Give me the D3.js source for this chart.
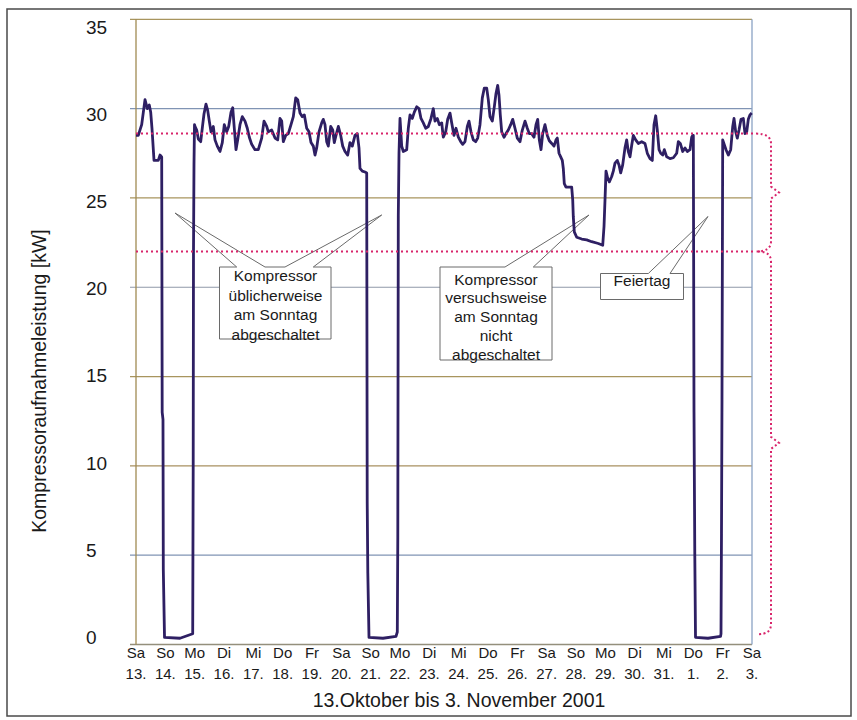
<!DOCTYPE html>
<html>
<head>
<meta charset="utf-8">
<script src="https://cdn.jsdelivr.net/npm/d3@7"></script>
<style>
  html, body { margin: 0; padding: 0; background: #fff; }
  svg { display: block; }
  text { font-family: "Liberation Sans", Arial, sans-serif; fill: #1a1a1a; }
</style>
</head>
<body>
<svg id="chart" width="857" height="720"></svg>
<script>
// ---------- DATA ----------
const dayNames = ["Sa","So","Mo","Di","Mi","Do","Fr","Sa","So","Mo","Di","Mi","Do","Fr","Sa","So","Mo","Di","Mi","Do","Fr","Sa"];
const dayDates = ["13.","14.","15.","16.","17.","18.","19.","20.","21.","22.","23.","24.","25.","26.","27.","28.","29.","30.","31.","1.","2.","3."];
const yTicks = [0,5,10,15,20,25,30,35];
const refLevels = [28.6, 22.0];   // red dotted reference lines [kW]
const xTitle = "13.Oktober bis 3. November 2001";
const yTitle = "Kompressoraufnahmeleistung [kW]";

// time in days since Sa 13.10. 0:00
const tDay = [
  0.000,0.078,0.194,0.307,0.385,0.453,0.501,0.545,0.614,0.760,0.818,0.876,0.893,0.920,0.931,0.972,1.500,1.933,
  1.950,1.960,1.977,1.994,2.011,2.069,2.124,2.206,2.274,2.318,2.386,2.444,2.499,2.557,2.635,2.693,2.772,2.864,2.942,
  3.010,3.092,3.160,3.239,3.297,3.351,3.409,3.467,3.545,3.624,3.716,3.794,3.863,3.944,4.057,4.169,4.285,4.364,4.456,
  4.510,4.626,4.739,4.831,4.909,4.967,5.022,5.103,5.192,5.284,5.363,5.444,5.513,5.591,5.669,5.738,5.819,5.898,5.966,
  6.045,6.102,6.160,6.239,6.331,6.385,6.443,6.501,6.556,6.638,6.706,6.760,6.818,6.897,6.979,7.047,7.125,7.217,7.295,
  7.374,7.466,7.544,7.602,7.636,7.715,7.807,7.865,7.882,7.903,7.943,8.420,8.864,8.908,8.925,8.942,8.966,9.000,9.058,
  9.113,9.229,9.283,9.341,9.420,9.488,9.570,9.648,9.716,9.795,9.876,9.965,10.057,10.135,10.193,10.272,10.340,10.422,
  10.476,10.558,10.626,10.705,10.763,10.841,10.909,10.988,11.069,11.138,11.216,11.295,11.352,11.420,11.499,11.581,
  11.649,11.727,11.806,11.874,11.956,12.010,12.068,12.147,12.215,12.273,12.331,12.375,12.419,12.467,12.546,12.614,
  12.692,12.774,12.843,12.920,12.999,13.091,13.170,13.262,13.340,13.408,13.490,13.568,13.637,13.694,13.749,13.807,
  13.865,13.943,14.022,14.090,14.172,14.250,14.318,14.363,14.421,14.478,14.533,14.567,14.601,14.659,14.772,14.853,
  14.888,14.908,14.942,15.024,15.195,15.365,15.535,15.761,15.911,15.955,15.989,16.023,16.081,16.136,16.217,16.272,
  16.330,16.408,16.466,16.524,16.592,16.670,16.728,16.783,16.841,16.899,16.954,17.035,17.124,17.240,17.352,17.431,
  17.523,17.601,17.659,17.717,17.772,17.830,17.888,17.956,18.011,18.092,18.205,18.318,18.433,18.488,18.556,18.638,
  18.716,18.795,18.886,18.944,18.979,19.000,19.023,19.050,19.074,19.500,19.926,19.943,19.960,19.977,20.001,20.114,
  20.192,20.274,20.343,20.387,20.445,20.499,20.557,20.625,20.704,20.761,20.820,20.874,20.932,20.991
];
// compressor power [kW]
const powerKW = [
  28.5,28.5,29.1,30.5,30.0,30.2,29.8,28.9,27.1,27.1,27.4,27.3,13.0,12.6,4.2,0.4,0.35,0.6,
  10.0,22.0,26.9,29.1,29.0,28.8,28.3,28.15,29.1,29.7,30.25,29.9,29.3,28.7,29.0,28.25,27.9,27.6,28.1,
  29.1,28.7,29.0,29.8,30.05,28.9,27.7,28.25,29.1,29.55,29.3,28.9,28.4,28.0,27.7,27.7,28.35,29.3,29.0,
  28.7,28.8,28.35,28.25,29.45,29.3,28.15,28.5,28.6,29.1,29.55,30.6,30.5,29.75,29.55,29.65,28.9,28.7,28.1,
  27.9,27.4,27.8,28.7,29.2,29.4,29.1,28.15,27.9,29.0,28.8,28.1,28.5,29.0,28.5,27.9,27.6,27.4,28.1,
  27.9,28.5,28.6,27.8,26.65,26.5,26.45,26.4,8.0,4.0,0.4,0.35,0.45,0.7,6.0,24.0,27.5,29.45,27.9,
  27.6,27.7,28.9,29.65,29.45,29.8,30.1,30.0,29.45,29.2,28.9,29.0,29.45,30.0,29.3,29.45,29.1,29.2,
  28.4,28.7,29.4,29.75,29.2,28.5,28.9,28.4,28.15,28.0,28.15,29.0,29.3,28.7,28.25,28.15,
  28.35,29.1,30.6,31.15,31.15,30.5,29.55,29.3,30.1,30.85,31.3,30.75,29.65,28.7,28.4,28.6,
  28.8,29.1,29.4,28.9,28.35,28.15,28.8,29.3,28.9,28.6,28.6,28.4,29.1,29.4,28.25,27.7,
  28.6,29.1,28.5,28.2,28.05,27.9,28.25,28.35,27.5,27.3,27.1,26.65,25.8,25.6,25.6,25.6,
  24.9,23.95,23.1,22.8,22.7,22.65,22.55,22.45,22.35,23.4,24.9,26.5,26.1,25.9,26.2,26.5,
  26.95,27.1,26.85,26.4,26.85,27.8,28.25,27.6,27.3,27.95,28.5,28.25,28.05,28.15,28.05,27.5,
  27.2,27.1,29.1,29.6,28.8,27.7,27.5,27.4,27.7,27.3,27.2,27.25,27.5,28.15,28.05,27.6,
  27.8,27.6,27.7,28.4,28.5,28.5,13.0,5.0,0.4,0.35,0.45,0.6,6.2,13.7,28.25,27.7,
  27.4,27.7,29.0,29.45,28.7,28.35,28.8,29.4,29.45,28.6,28.7,29.4,29.65,29.75
];

const callouts = [
  { lines: ["Kompressor","üblicherweise","am Sonntag","abgeschaltet"] },
  { lines: ["Kompressor","versuchsweise","am Sonntag","nicht","abgeschaltet"] },
  { lines: ["Feiertag"] }
];

// ---------- LAYOUT ----------
const svg = d3.select("#chart");
const x = d3.scaleLinear().domain([0, 21]).range([136, 752]);
const y = d3.scaleLinear().domain([0, 35]).range([644.5, 19.3]);
const yLab = d3.scaleLinear().domain([0, 35]).range([637, 27]);

// outer frame
svg.append("rect").attr("x", 7).attr("y", 9).attr("width", 844).attr("height", 707)
  .attr("fill", "#fff").attr("stroke", "#4a4a4a").attr("stroke-width", 1.5);

// horizontal gridlines
const gridCol = { 35:"#a8955e", 30:"#8094b4", 25:"#a8955e", 20:"#8f98a8", 15:"#a8955e", 10:"#a89060", 5:"#8094b4" };
svg.append("g").selectAll("line").data(yTicks.filter(v => v > 0)).join("line")
  .attr("x1", 130).attr("x2", x(21))
  .attr("y1", d => y(d)).attr("y2", d => y(d))
  .attr("stroke", d => gridCol[d]).attr("stroke-width", 1.2);
// x axis line
svg.append("line").attr("x1", 130).attr("x2", x(21)).attr("y1", y(0)).attr("y2", y(0))
  .attr("stroke", "#948f7c").attr("stroke-width", 1.3);
// plot borders
svg.append("line").attr("x1", x(0)).attr("x2", x(0)).attr("y1", y(35)).attr("y2", y(0))
  .attr("stroke", "#a08a52").attr("stroke-width", 1.3);
svg.append("line").attr("x1", x(21)).attr("x2", x(21)).attr("y1", y(35)).attr("y2", y(0))
  .attr("stroke", "#8aa2c4").attr("stroke-width", 1.3);

// y tick labels
svg.append("g").selectAll("text").data(yTicks).join("text")
  .attr("x", 86).attr("y", d => yLab(d)).attr("dy", "0.36em")
  .attr("font-size", 19).text(d => d);

// x tick labels (two rows, separate texts)
svg.append("g").selectAll("text").data(dayNames).join("text")
  .attr("x", (d, i) => x(i)).attr("y", 658)
  .attr("text-anchor", "middle").attr("font-size", 15).text(d => d);
svg.append("g").selectAll("text").data(dayDates).join("text")
  .attr("x", (d, i) => x(i)).attr("y", 679)
  .attr("text-anchor", "middle").attr("font-size", 15).text(d => d);

// axis titles
svg.append("text").attr("x", 459).attr("y", 707).attr("text-anchor", "middle")
  .attr("font-size", 19.5).text(xTitle);
svg.append("text").attr("transform", "translate(46,381) rotate(-90)").attr("text-anchor", "middle")
  .attr("font-size", 19.5).text(yTitle);

// ---------- CALLOUTS ----------
const boxStroke = "#6a6a6a";
const cg = svg.append("g");
const b1 = { l: 219.5, r: 331, t: 267, b: 339 };
cg.append("path").attr("d",
  `M${b1.l},${b1.t} L236.7,${b1.t} L175,213 L265,${b1.t} L285,${b1.t} L381.7,215 L313.3,${b1.t} L${b1.r},${b1.t} L${b1.r},${b1.b} L${b1.l},${b1.b} Z`)
  .attr("fill", "#fff").attr("stroke", boxStroke).attr("stroke-width", 1);
const b2 = { l: 440, r: 552, t: 267, b: 360 };
cg.append("path").attr("d",
  `M${b2.l},${b2.t} L505,${b2.t} L589,215 L533.3,${b2.t} L${b2.r},${b2.t} L${b2.r},${b2.b} L${b2.l},${b2.b} Z`)
  .attr("fill", "#fff").attr("stroke", boxStroke).attr("stroke-width", 1);
const b3 = { l: 600.5, r: 683.5, t: 273.5, b: 299.5 };
cg.append("path").attr("d",
  `M${b3.l},${b3.t} L648.3,${b3.t} L708,216.5 L670,${b3.t} L${b3.r},${b3.t} L${b3.r},${b3.b} L${b3.l},${b3.b} Z`)
  .attr("fill", "#fff").attr("stroke", boxStroke).attr("stroke-width", 1);

const textSpec = [
  { cx: 275.5, base: 281, step: 19.5 },
  { cx: 496, base: 284.5, step: 18.9 },
  { cx: 642, base: 286, step: 19 }
];
callouts.forEach((c, k) => {
  const s = textSpec[k];
  cg.append("g").selectAll("text").data(c.lines).join("text")
    .attr("x", s.cx).attr("y", (d, i) => s.base + i * s.step)
    .attr("text-anchor", "middle").attr("font-size", 15.5).text(d => d);
});

// ---------- SERIES ----------
const series = tDay.map((t, i) => [t, powerKW[i]]);
svg.append("path").datum(series)
  .attr("d", d3.line().x(d => x(d[0])).y(d => y(d[1])))
  .attr("fill", "none").attr("stroke", "#2e1f63").attr("stroke-width", 2.8)
  .attr("stroke-linejoin", "round");

// ---------- REFERENCE LINES & BRACES ----------
const red = "#d8246a";
svg.append("g").selectAll("line").data(refLevels).join("line")
  .attr("x1", x(0)).attr("x2", x(21) + 4)
  .attr("y1", d => y(d)).attr("y2", d => y(d))
  .attr("stroke", red).attr("stroke-width", 2).attr("stroke-dasharray", "2,3");

const bx = x(21) + 19, tip = x(21) + 27;
function brace(yTop, yBot, xStart) {
  const m = (yTop + yBot) / 2;
  return `M${xStart},${yTop} Q${bx},${yTop} ${bx},${yTop + 10} L${bx},${m - 6} L${tip},${m} L${bx},${m + 6} L${bx},${yBot - 10} Q${bx},${yBot} ${xStart},${yBot}`;
}
const lowEnd = 0.35;
svg.append("path").attr("d", brace(y(refLevels[0]), y(refLevels[1]), x(21) + 4))
  .attr("fill", "none").attr("stroke", red).attr("stroke-width", 2).attr("stroke-dasharray", "2,2.5");
svg.append("path").attr("d", brace(y(refLevels[1]), y(lowEnd) - 4, x(21) + 6))
  .attr("fill", "none").attr("stroke", red).attr("stroke-width", 2).attr("stroke-dasharray", "2,2.5");
</script>
</body>
</html>
